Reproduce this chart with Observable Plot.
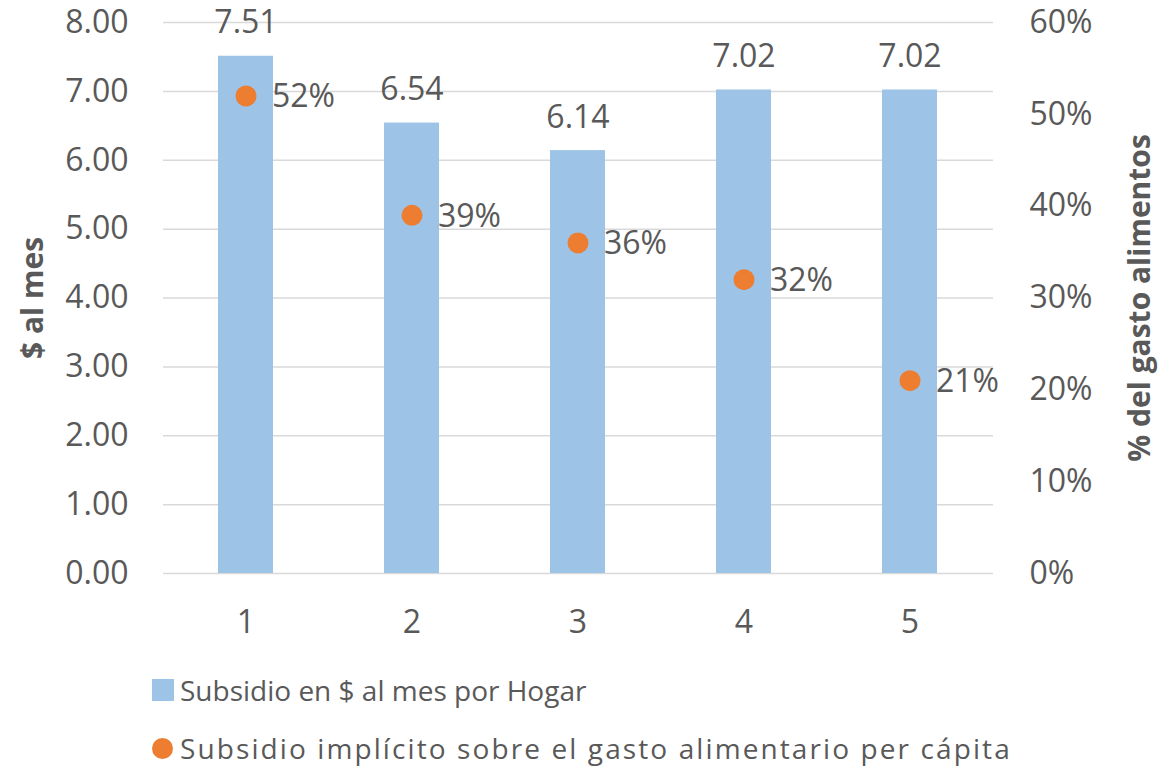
<!DOCTYPE html>
<html>
<head>
<meta charset="utf-8">
<script src="https://cdn.jsdelivr.net/npm/d3@7"></script>
<script src="https://cdn.jsdelivr.net/npm/@observablehq/plot@0.6"></script>
<style>
  html, body { margin: 0; padding: 0; background: #fff; }
  body { width: 1170px; height: 767px; position: relative; font-family: "Open Sans", sans-serif; color: #595959; }
  #chart svg { display: block; overflow: visible; }
  .legend { position: absolute; left: 152px; top: 0; font-size: 28px; color: #595959; }
  .legend .row { position: absolute; left: 0; height: 28px; line-height: 28px; display: flex; align-items: center; white-space: nowrap; }
  .legend .sw { width: 22px; height: 22px; margin-right: 6px; flex: none; }
  .legend .sq { background: #9dc3e6; }
  .legend .ci { background: #ed7d31; border-radius: 50%; width: 21px; height: 21px; margin-right: 7px; }
  #r1 { top: 676px; }
  #r2 { top: 734px; }
  #l2 { letter-spacing: 2.1px; }
</style>
</head>
<body>
<div id="chart"></div>
<div class="legend">
  <div class="row" id="r1"><span class="sw sq"></span><span id="l1"></span></div>
  <div class="row" id="r2"><span class="sw ci"></span><span id="l2"></span></div>
</div>
<script>
const categories = ["1", "2", "3", "4", "5"];
const subsidioHogar = [7.51, 6.54, 6.14, 7.02, 7.02];        // $ al mes
const subsidioPct = [52, 39, 36, 32, 21];                      // % del gasto alimentos
const leftTicks = [0, 1, 2, 3, 4, 5, 6, 7, 8];
const rightTicks = [0, 10, 20, 30, 40, 50, 60];
const seriesNames = ["Subsidio en $ al mes por Hogar", "Subsidio implícito sobre el gasto alimentario per cápita"];
const leftTitle = "$ al mes";
const rightTitle = "% del gasto alimentos";

const leftMax = 8, rightMax = 60;
const toLeft = p => p / rightMax * leftMax;

const data = categories.map((c, i) => ({cat: c, v: subsidioHogar[i], p: subsidioPct[i]}));

const textColor = "#595959";
const fontFamily = "'Open Sans', sans-serif";

const chart = Plot.plot({
  width: 1170,
  height: 661,
  marginLeft: 163,
  marginRight: 177,
  marginTop: 22,
  marginBottom: 88,
  style: {fontFamily, fontSize: "32px", color: textColor, background: "transparent"},
  x: {domain: categories, paddingInner: 0.667, paddingOuter: 0.3335},
  y: {domain: [0, leftMax]},
  marks: [
    Plot.gridY(leftTicks, {stroke: "#d9d9d9", strokeOpacity: 1, strokeWidth: 1.5}),
    Plot.barY(data, {x: "cat", y: "v", fill: "#9dc3e6"}),
    Plot.axisY(leftTicks, {anchor: "left", tickSize: 0, tickPadding: 35, tickFormat: d => d.toFixed(2), label: null, fill: textColor, fontSize: 32}),
    Plot.axisY(rightTicks.map(toLeft), {anchor: "right", tickSize: 0, tickPadding: 36, tickFormat: d => Math.round(d / leftMax * rightMax) + "%", label: null, fill: textColor, fontSize: 32, textAnchor: "start"}),
    Plot.axisX(categories, {anchor: "bottom", tickSize: 0, tickPadding: 37, label: null, fill: textColor, fontSize: 32}),
    Plot.text(data, {x: "cat", y: "v", text: d => d.v.toFixed(2), dy: -33, lineAnchor: "middle", fill: textColor, fontSize: 32}),
    Plot.dot(data, {x: "cat", y: d => toLeft(d.p), r: 10.5, fill: "#ed7d31", stroke: null}),
    Plot.text(data, {x: "cat", y: d => toLeft(d.p), text: d => d.p + "%", dx: 26, dy: 1, textAnchor: "start", lineAnchor: "middle", fill: textColor, fontSize: 32}),
    Plot.text([leftTitle], {frameAnchor: "left", dx: -130, rotate: -90, text: d => d, fontWeight: "bold", fontSize: 30, fill: textColor, lineAnchor: "middle", textAnchor: "middle"}),
    Plot.text([rightTitle], {frameAnchor: "right", dx: 147, rotate: -90, text: d => d, fontWeight: "bold", fontSize: 30, fill: textColor, lineAnchor: "middle", textAnchor: "middle"})
  ]
});
document.getElementById("chart").appendChild(chart);
document.getElementById("l1").textContent = seriesNames[0];
document.getElementById("l2").textContent = seriesNames[1];
</script>
</body>
</html>
